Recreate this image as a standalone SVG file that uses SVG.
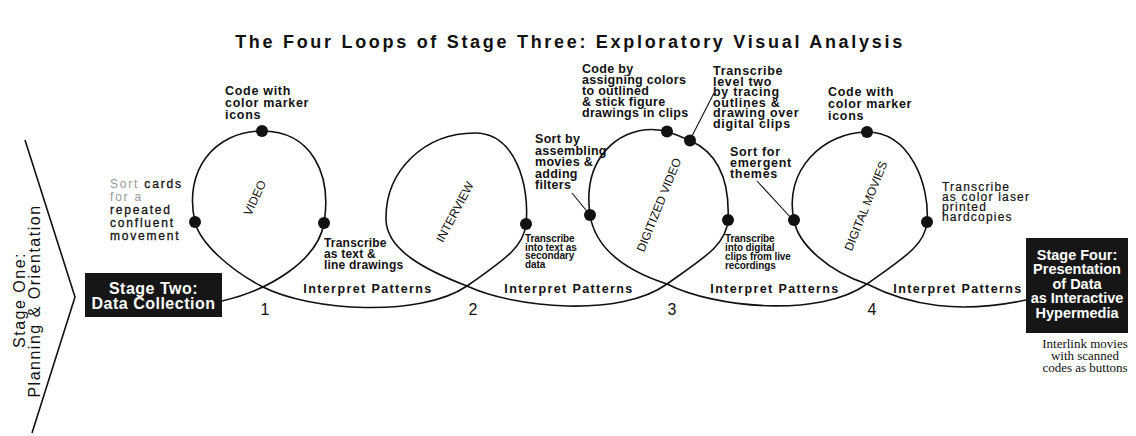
<svg xmlns="http://www.w3.org/2000/svg" width="1136" height="436" viewBox="0 0 1136 436">
<style>
text{font-family:"Liberation Sans",Arial,sans-serif;fill:#111}
.title{font-size:18px;font-weight:bold;letter-spacing:2.7px;text-anchor:middle}
.lbl{font-size:12.5px;font-weight:bold;letter-spacing:0.7px}
.sm{font-size:10px;font-weight:bold;letter-spacing:-0.1px}
.wide{font-size:12px;letter-spacing:1.8px;stroke:#111;stroke-width:0.3}
.ip{font-size:12.5px;font-weight:bold;letter-spacing:1.4px;text-anchor:middle}
.num{font-size:16px;text-anchor:middle}
.nm{font-size:12px;text-anchor:middle}
.s1{font-size:16px;letter-spacing:1.5px;text-anchor:middle}
.box{fill:#161616}
.bt{fill:#fff;font-weight:bold;text-anchor:middle}
.cap{font-family:"Liberation Serif","Times New Roman",serif;font-size:13px;text-anchor:middle}
.ln{fill:none;stroke:#111;stroke-width:1.6}
.ld{fill:none;stroke:#111;stroke-width:1.1}
.dot{fill:#111}
.gray{fill:#999;stroke:none}
</style>

<text class="title" x="570" y="48">The Four Loops of Stage Three:  Exploratory Visual Analysis</text>

<g id="stage-one">
<polyline class="ln" points="25,140 75,297 32,433"/>
<text class="s1" transform="translate(25,300) rotate(-90)">Stage One:</text>
<text class="s1" transform="translate(40,301) rotate(-90)">Planning &amp; Orientation</text>
</g>

<g id="connectors">
<path class="ln" d="M222,301 C270,290 318,260 324,223 C332,175 312,131 262,131 C215,131 183,170 195,222 C200,243 230,270 263,287 C310,311 420,318 467,286 C509,257 524,245 526,224 C530,185 515,133 475,133 C425,133 385,170 386,220 C387,250 425,270 467,286 C514,308 620,318 667,284 C705,257 726,245 728,220 C730,178 716,152 690,140.5 C675,134 665,129.5 652,129.5 C618,129.5 582,158 590,215 C596,252 630,272 667,284 C714,308 820,318 867,284 C905,257 925,245 927,222 C930,185 910,132 867,132 C824,132 783,170 794,220 C798,245 830,272 867,284 C910,306 960,314 1026,300"/>
<line class="ld" x1="572" y1="193" x2="590" y2="215"/>
<line class="ld" x1="714" y1="93" x2="691" y2="138"/>
<line class="ld" x1="757" y1="181" x2="792" y2="219"/>
</g>

<g id="stage-two">
<rect class="box" x="85" y="273" width="137" height="44"/>
<text class="bt" x="153.5" y="293.5" style="font-size:16px;letter-spacing:0.5px">Stage Two:</text>
<text class="bt" x="153.5" y="308.5" style="font-size:16px;letter-spacing:0.5px">Data Collection</text>
</g>

<g id="loop1">
<circle class="dot" cx="262" cy="131" r="6"/>
<circle class="dot" cx="195" cy="222" r="6"/>
<circle class="dot" cx="324" cy="223" r="6"/>
<text class="nm" transform="translate(255,198) rotate(-65)" dy="4">VIDEO</text>
<text class="lbl" x="225" y="95">Code with</text>
<text class="lbl" x="225" y="107">color marker</text>
<text class="lbl" x="225" y="119">icons</text>
<text class="wide" x="110" y="188"><tspan class="gray">Sort</tspan> cards</text>
<text class="wide gray" x="110" y="201">for a</text>
<text class="wide" x="110" y="214">repeated</text>
<text class="wide" x="110" y="227">confluent</text>
<text class="wide" x="110" y="240">movement</text>
<text class="lbl" x="324" y="247" style="font-size:12px;letter-spacing:0.2px">Transcribe</text>
<text class="lbl" x="324" y="258" style="font-size:12px;letter-spacing:0.2px">as text &amp;</text>
<text class="lbl" x="324" y="269" style="font-size:12px;letter-spacing:0.2px">line drawings</text>
<text class="ip" x="368" y="293">Interpret Patterns</text>
<text class="num" x="265" y="315">1</text>
</g>

<g id="loop2">
<circle class="dot" cx="526" cy="224" r="6"/>
<text class="nm" transform="translate(455,212) rotate(-62)" dy="4">INTERVIEW</text>
<text class="sm" x="525" y="242">Transcribe</text>
<text class="sm" x="525" y="250.5">into text as</text>
<text class="sm" x="525" y="259">secondary</text>
<text class="sm" x="525" y="267.5">data</text>
<text class="ip" x="569" y="293">Interpret Patterns</text>
<text class="num" x="473" y="315">2</text>
</g>

<g id="loop3">
<circle class="dot" cx="590" cy="215" r="6"/>
<circle class="dot" cx="667" cy="131.5" r="6"/>
<circle class="dot" cx="690" cy="140.5" r="6"/>
<circle class="dot" cx="728" cy="220" r="6"/>
<text class="nm" transform="translate(659,205) rotate(-68)" dy="4">DIGITIZED VIDEO</text>
<text class="lbl" x="582" y="73" style="letter-spacing:0.3px">Code by</text>
<text class="lbl" x="582" y="84" style="letter-spacing:0.3px">assigning colors</text>
<text class="lbl" x="582" y="95" style="letter-spacing:0.3px">to outlined</text>
<text class="lbl" x="582" y="106" style="letter-spacing:0.3px">&amp; stick figure</text>
<text class="lbl" x="582" y="117" style="letter-spacing:0.3px">drawings in clips</text>
<text class="lbl" x="713" y="75">Transcribe</text>
<text class="lbl" x="713" y="85.5">level two</text>
<text class="lbl" x="713" y="96">by tracing</text>
<text class="lbl" x="713" y="106.5">outlines &amp;</text>
<text class="lbl" x="713" y="117">drawing over</text>
<text class="lbl" x="713" y="127.5">digital clips</text>
<text class="lbl" x="535" y="143" style="letter-spacing:0.3px">Sort by</text>
<text class="lbl" x="535" y="154.5" style="letter-spacing:0.3px">assembling</text>
<text class="lbl" x="535" y="166" style="letter-spacing:0.3px">movies &amp;</text>
<text class="lbl" x="535" y="177.5" style="letter-spacing:0.3px">adding</text>
<text class="lbl" x="535" y="189" style="letter-spacing:0.3px">filters</text>
<text class="sm" x="725" y="242">Transcribe</text>
<text class="sm" x="725" y="251">into digital</text>
<text class="sm" x="725" y="260">clips from live</text>
<text class="sm" x="725" y="269">recordings</text>
<text class="ip" x="775" y="293">Interpret Patterns</text>
<text class="num" x="672" y="315">3</text>
</g>

<g id="loop4">
<circle class="dot" cx="867" cy="132" r="6"/>
<circle class="dot" cx="794" cy="220" r="6"/>
<circle class="dot" cx="927" cy="222" r="6"/>
<text class="nm" transform="translate(866,206) rotate(-68)" dy="4">DIGITAL MOVIES</text>
<text class="lbl" x="828" y="96">Code with</text>
<text class="lbl" x="828" y="108">color marker</text>
<text class="lbl" x="828" y="120">icons</text>
<text class="lbl" x="730" y="156">Sort for</text>
<text class="lbl" x="730" y="167">emergent</text>
<text class="lbl" x="730" y="178">themes</text>
<text class="wide" x="942" y="191" style="letter-spacing:1.2px;stroke-width:0.2">Transcribe</text>
<text class="wide" x="942" y="201" style="letter-spacing:1.2px;stroke-width:0.2">as color laser</text>
<text class="wide" x="942" y="211" style="letter-spacing:1.2px;stroke-width:0.2">printed</text>
<text class="wide" x="942" y="221" style="letter-spacing:1.2px;stroke-width:0.2">hardcopies</text>
<text class="ip" x="958" y="293">Interpret Patterns</text>
<text class="num" x="872" y="315">4</text>
</g>

<g id="stage-four">
<rect class="box" x="1026" y="238" width="102" height="95"/>
<text class="bt" x="1077" y="260" style="font-size:14.5px">Stage Four:</text>
<text class="bt" x="1077" y="274" style="font-size:14.5px">Presentation</text>
<text class="bt" x="1077" y="288.5" style="font-size:14.5px">of Data</text>
<text class="bt" x="1077" y="303" style="font-size:14.5px">as Interactive</text>
<text class="bt" x="1077" y="318" style="font-size:14.5px">Hypermedia</text>
<text class="cap" x="1085" y="348">Interlink movies</text>
<text class="cap" x="1085" y="360">with scanned</text>
<text class="cap" x="1085" y="372">codes as buttons</text>
</g>
</svg>
